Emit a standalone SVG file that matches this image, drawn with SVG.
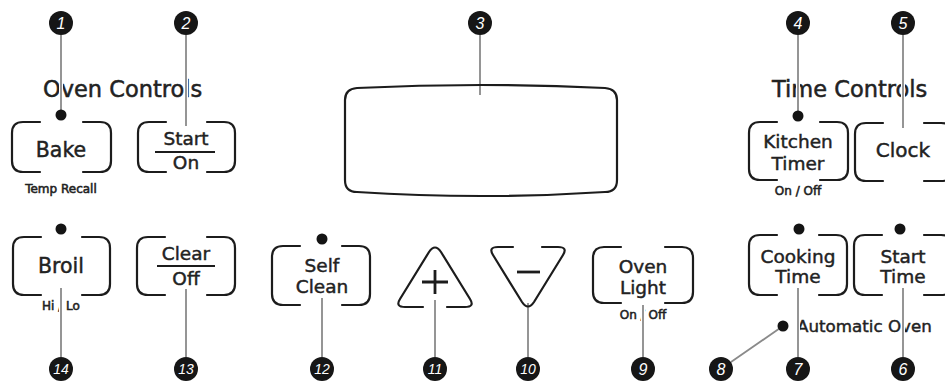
<svg xmlns="http://www.w3.org/2000/svg" width="945" height="385" viewBox="0 0 945 385">
<style>
.t{font-family:"DejaVu Sans","Liberation Sans",sans-serif;fill:#222;stroke:#222;stroke-width:0.45;text-anchor:middle}
.b{font-size:18.5px}
.bl{font-size:20.5px}
.h{font-size:22.5px;text-anchor:start;stroke-width:0.5}
.s{font-size:12px;stroke-width:0.55}
.fr{fill:none;stroke:#1c1c1c;stroke-width:2.2;stroke-linecap:round;stroke-linejoin:round}
.dot{fill:#141414}
.halo{stroke:#fff;stroke-width:4;fill:none}
.ln{stroke:#8a8a8a;stroke-width:1.8;fill:none}
.cc{fill:#161616}
.cn{font-family:"Liberation Sans","DejaVu Sans",sans-serif;font-style:italic;font-size:16px;fill:#fff;text-anchor:middle}
.cn2{font-size:14px}
</style>
<rect width="945" height="385" fill="#fff"/>
<g id="captions">
<text class="t h" x="43" y="97">Oven Controls</text>
<text class="t h" x="772" y="97">Time Controls</text>
<text class="t s" x="61" y="193">Temp Recall</text>
<text class="t s" x="61" y="310">Hi / Lo</text>
<text class="t s" x="643" y="319">On / Off</text>
<text class="t s" x="798" y="195">On / Off</text>
<text class="t" x="797" y="332" style="font-size:16.7px;text-anchor:start">Automatic Oven</text>
</g>
<g id="connectors">
<g class="halo">
<path d="M61 35V112M186 35V126M480 35V95M798 35V113M903 35V128M61 288V357M186 289V357M322 298V357M435 300V357M528 303V357M643 305V357M731 362L783 326M798 288V357M903 288V357"/>
</g>
<g class="ln">
<path d="M61 35V112M186 35V126M480 35V95M798 35V113M903 35V128M61 288V357M186 289V357M322 298V357M435 300V357M528 303V357M643 305V357M731 362L783 326M798 288V357M903 288V357"/>
</g>
</g>
<g id="display">
<path class="fr" d="M357 88Q481 82 605 88Q617 89 617 100L617 180Q617 192 605 192Q481 200 357 192Q345 192 345 180L345 100Q345 89 357 88Z"/>
</g>
<g id="bake">
<path class="fr" d="M40 122H23Q12 122 12 133V161Q12 172 23 172H40M83 122H100Q111 122 111 133V161Q111 172 100 172H83"/>
<circle class="dot" cx="61" cy="115" r="5.5"/>
<text class="t bl" x="61" y="157">Bake</text>
</g>
<g id="start-on">
<path class="fr" d="M166 122H149Q138 122 138 133V161Q138 172 149 172H166M207 122H224Q235 122 235 133V161Q235 172 224 172H207"/>
<text class="t b" x="186" y="145">Start</text>
<line x1="155" y1="152" x2="215" y2="152" stroke="#1c1c1c" stroke-width="2"/>
<text class="t b" x="186" y="169">On</text>
</g>
<g id="broil">
<path class="fr" d="M41 237H24Q13 237 13 248V284Q13 295 24 295H41M82 237H99Q110 237 110 248V284Q110 295 99 295H82"/>
<circle class="dot" cx="61" cy="229" r="5.5"/>
<text class="t bl" x="61" y="273">Broil</text>
</g>
<g id="clear-off">
<path class="fr" d="M165 237H148Q137 237 137 248V284Q137 295 148 295H165M207 237H224Q235 237 235 248V284Q235 295 224 295H207"/>
<text class="t b" x="186" y="260">Clear</text>
<line x1="157" y1="266" x2="215" y2="266" stroke="#1c1c1c" stroke-width="2"/>
<text class="t b" x="186" y="285">Off</text>
</g>
<g id="self-clean">
<path class="fr" d="M300 246H283Q272 246 272 257V294Q272 305 283 305H300M342 246H359Q370 246 370 257V294Q370 305 359 305H342"/>
<circle class="dot" cx="322" cy="239" r="5.5"/>
<text class="t b" x="322" y="272">Self</text>
<text class="t b" x="322" y="293">Clean</text>
</g>
<g id="plus">
<path class="fr" d="M423 307H405Q395 307 400 299L429 252Q435 243 441 252L470 299Q475 307 465 307H447"/>
<path d="M422 282H448M435 270V294" stroke="#1c1c1c" stroke-width="2.8" fill="none"/>
</g>
<g id="minus">
<path class="fr" d="M513 247H498Q488 247 493 255L522 302Q528 311 534 302L563 255Q568 247 558 247H542"/>
<path d="M517 272H540" stroke="#1c1c1c" stroke-width="2.8" fill="none"/>
</g>
<g id="oven-light">
<path class="fr" d="M621 247H604Q593 247 593 258V292Q593 303 604 303H621M665 247H682Q693 247 693 258V292Q693 303 682 303H665"/>
<text class="t b" x="643" y="273">Oven</text>
<text class="t b" x="643" y="294">Light</text>
</g>
<g id="kitchen-timer">
<path class="fr" d="M777 122H760Q749 122 749 133V169Q749 180 760 180H777M820 122H837Q848 122 848 133V169Q848 180 837 180H820"/>
<circle class="dot" cx="798" cy="116" r="5.5"/>
<text class="t b" x="798" y="148">Kitchen</text>
<text class="t b" x="798" y="170">Timer</text>
</g>
<g id="clock">
<path class="fr" d="M883 123H866Q855 123 855 134V170Q855 181 866 181H883M924 123H941Q952 123 952 134V170Q952 181 941 181H924"/>
<text class="t" x="903" y="157" style="font-size:20px">Clock</text>
</g>
<g id="cooking-time">
<path class="fr" d="M777 235H760Q749 235 749 246V284Q749 295 760 295H777M819 235H836Q847 235 847 246V284Q847 295 836 295H819"/>
<circle class="dot" cx="799" cy="229" r="5.5"/>
<text class="t b" x="798" y="263">Cooking</text>
<text class="t b" x="798" y="283">Time</text>
</g>
<g id="start-time">
<path class="fr" d="M882 235H865Q854 235 854 246V284Q854 295 865 295H882M924 235H941Q952 235 952 246V284Q952 295 941 295H924"/>
<circle class="dot" cx="900" cy="229" r="5.5"/>
<text class="t b" x="903" y="263">Start</text>
<text class="t b" x="903" y="283">Time</text>
</g>
<g id="automatic-oven">
<circle class="dot" cx="783" cy="326" r="5.5"/>
</g>
<g id="callouts">
<g id="c1"><circle class="cc" cx="61" cy="23" r="12"/><text class="cn" x="61" y="28.8">1</text></g>
<g id="c2"><circle class="cc" cx="186" cy="23" r="12"/><text class="cn" x="186" y="28.8">2</text></g>
<g id="c3"><circle class="cc" cx="480" cy="23" r="12"/><text class="cn" x="480" y="28.8">3</text></g>
<g id="c4"><circle class="cc" cx="798" cy="23" r="12"/><text class="cn" x="798" y="28.8">4</text></g>
<g id="c5"><circle class="cc" cx="903" cy="23" r="12"/><text class="cn" x="903" y="28.8">5</text></g>
<g id="c14"><circle class="cc" cx="61" cy="369" r="12"/><text class="cn cn2" x="61" y="374">14</text></g>
<g id="c13"><circle class="cc" cx="186" cy="369" r="12"/><text class="cn cn2" x="186" y="374">13</text></g>
<g id="c12"><circle class="cc" cx="322" cy="369" r="12"/><text class="cn cn2" x="322" y="374">12</text></g>
<g id="c11"><circle class="cc" cx="435" cy="369" r="12"/><text class="cn cn2" x="435" y="374">11</text></g>
<g id="c10"><circle class="cc" cx="528" cy="369" r="12"/><text class="cn cn2" x="528" y="374">10</text></g>
<g id="c9"><circle class="cc" cx="643" cy="369" r="12"/><text class="cn" x="643" y="374.8">9</text></g>
<g id="c8"><circle class="cc" cx="721" cy="369" r="12"/><text class="cn" x="721" y="374.8">8</text></g>
<g id="c7"><circle class="cc" cx="798" cy="369" r="12"/><text class="cn" x="798" y="374.8">7</text></g>
<g id="c6"><circle class="cc" cx="903" cy="369" r="12"/><text class="cn" x="903" y="374.8">6</text></g>
</g>
</svg>
